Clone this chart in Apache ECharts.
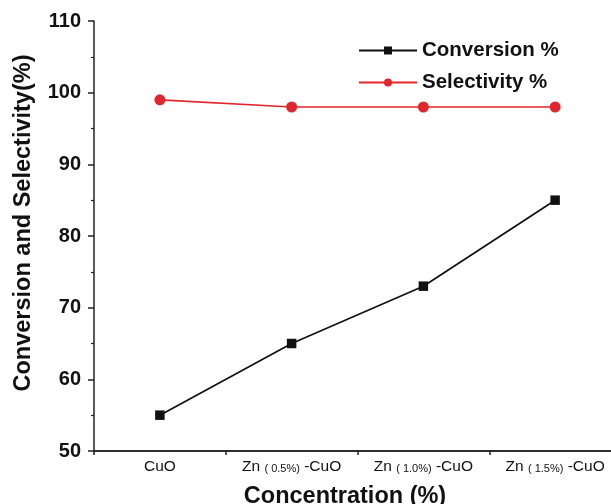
<!DOCTYPE html>
<html>
<head>
<meta charset="utf-8">
<script src="https://cdn.jsdelivr.net/npm/echarts@6/dist/echarts.min.js"></script>
<style>
  html, body { margin: 0; padding: 0; background: #fff; overflow: hidden; }
  /* the plot runs a little past the right edge of the window */
  #chart { width: 621px; height: 504px; }
</style>
</head>
<body>
<div id="chart"></div>
<script>
// Catalyst samples along the x axis
const samples = ['CuO', 'Zn(0.5%)-CuO', 'Zn(1.0%)-CuO', 'Zn(1.5%)-CuO'];
// Dopant amount shown in small print inside each label ('' for the bare oxide)
const dopant = ['', '( 0.5%)', '( 1.0%)', '( 1.5%)'];
// Measured values (%)
const conversion = [55, 65, 73, 85];
const selectivity = [99, 98, 98, 98];
// Y axis range
const yMin = 50, yMax = 110, yStep = 10;

const FONT = '"Liberation Sans", Arial, sans-serif';
const AXIS = '#222';

const chart = echarts.init(document.getElementById('chart'));

function sampleLabel(value, idx) {
  if (!dopant[idx]) return '{b|' + value + '}';
  return '{b|Zn }{s|' + dopant[idx] + '}{b| -CuO}';
}

chart.setOption({
  animation: false,
  backgroundColor: '#fff',
  grid: { left: 94, top: 21, right: 0, bottom: 53, containLabel: false, outerBoundsMode: 'none' },
  legend: {
    orient: 'vertical',
    left: 353,
    top: 35,
    itemGap: 11,
    itemWidth: 58,
    itemHeight: 10,
    textStyle: { fontFamily: FONT, fontWeight: 'bold', fontSize: 20.5, color: '#111' },
    data: ['Conversion %', 'Selectivity %']
  },
  xAxis: [
    {
      type: 'category',
      data: samples,
      boundaryGap: true,
      name: 'Concentration (%)',
      nameLocation: 'middle',
      nameGap: 34,
      nameTextStyle: {
        fontFamily: FONT, fontWeight: 'bold', fontSize: 23.5, color: '#111',
        padding: [0, 25, 0, 0]
      },
      axisLine: { lineStyle: { color: AXIS, width: 1.5 } },
      axisTick: { alignWithLabel: true, length: 7, lineStyle: { color: AXIS, width: 1.5 } },
      axisLabel: {
        interval: 0,
        margin: 8,
        formatter: sampleLabel,
        rich: {
          b: { fontFamily: FONT, fontSize: 15.5, color: '#111' },
          s: { fontFamily: FONT, fontSize: 11, color: '#111', padding: [4, 0, 0, 0] }
        }
      },
      splitLine: { show: false }
    },
    {
      // second copy of the category axis carries the short ticks between samples
      type: 'category',
      data: samples,
      boundaryGap: true,
      position: 'bottom',
      axisLine: { show: true, lineStyle: { color: AXIS, width: 1.5 } },
      axisTick: { show: true, interval: 0, alignWithLabel: false, length: 4, lineStyle: { color: AXIS, width: 1.5 } },
      axisLabel: { show: false },
      splitLine: { show: false }
    }
  ],
  yAxis: {
    type: 'value',
    min: yMin,
    max: yMax,
    interval: yStep,
    name: 'Conversion and Selectivity(%)',
    nameLocation: 'middle',
    nameGap: 58,
    nameTextStyle: {
      fontFamily: FONT, fontWeight: 'bold', fontSize: 23.5, color: '#111',
      padding: [0, 0, 0, 26]
    },
    axisLine: { show: true, lineStyle: { color: AXIS, width: 1.5 } },
    axisTick: { show: true, length: 6, lineStyle: { color: AXIS, width: 1.5 } },
    minorTick: { show: true, splitNumber: 2, length: 3, lineStyle: { color: AXIS, width: 1.2 } },
    axisLabel: { margin: 13, fontFamily: FONT, fontWeight: 'bold', fontSize: 20, color: '#111' },
    splitLine: { show: false }
  },
  series: [
    {
      name: 'Conversion %',
      type: 'line',
      data: conversion,
      symbol: 'rect',
      symbolSize: 9.5,
      itemStyle: { color: '#111' },
      lineStyle: { color: '#111', width: 1.7 }
    },
    {
      name: 'Selectivity %',
      type: 'line',
      data: selectivity,
      symbol: 'circle',
      symbolSize: 11,
      itemStyle: { color: '#e3262b' },
      lineStyle: { color: '#e3262b', width: 1.7 }
    }
  ]
});
</script>
</body>
</html>
